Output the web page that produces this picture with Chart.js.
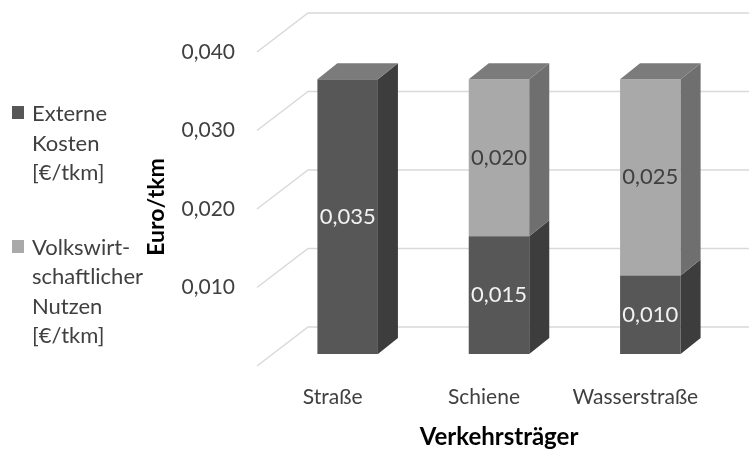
<!DOCTYPE html>
<html lang="de">
<head>
    <meta charset="UTF-8">
    <title>Externe Kosten und volkswirtschaftlicher Nutzen</title>
    <script src="https://cdn.jsdelivr.net/npm/chart.js"></script>
    <style>
        body { margin: 0; background: #fff; }
        #wrap { position: relative; width: 749px; height: 454px; }
        #legend {
            position: absolute; left: 12px; top: 98px;
            font-family: Lato, sans-serif; font-size: 22px; color: #404040;
            line-height: 29.5px;
        }
        .item { position: relative; padding-left: 20px; }
        .item + .item { margin-top: 45px; }
        .swatch { position: absolute; left: 0; top: 8px; width: 12px; height: 13px; }
    </style>
</head>
<body>
    <div id="wrap">
        <canvas id="chart"></canvas>
        <div id="legend">
            <div class="item"><span class="swatch" style="background:#575757"></span>Externe<br>Kosten<br>[€/tkm]</div>
            <div class="item"><span class="swatch" style="background:#a9a9a9"></span>Volkswirt-<br>schaftlicher<br>Nutzen<br>[€/tkm]</div>
        </div>
    </div>

    <script>
        const categories = ['Straße', 'Schiene', 'Wasserstraße'];
        const externeKosten = [0.035, 0.015, 0.010];
        const volkswirtNutzen = [null, 0.020, 0.025];
        const yTicks = [0, 0.01, 0.02, 0.03, 0.04];

        const fmt = v => v.toFixed(3).replace('.', ',');

        // colours per series: front, side, label
        const faces = [
            { front: '#575757', side: '#3d3d3d', text: '#f2f2f2' },
            { front: '#a9a9a9', side: '#6f6f6f', text: '#404040' }
        ];
        const topColor = '#7b7b7b';
        const depth = { dx: 20, dy: -16 };

        // fake 3D: back wall grid, side/top faces, value labels
        const bar3d = {
            id: 'bar3d',
            beforeDatasetsDraw(chart) {
                const ctx = chart.ctx, a = chart.chartArea, y = chart.scales.y;
                ctx.save();
                ctx.strokeStyle = '#d9d9d9';
                ctx.lineWidth = 1.5;
                yTicks.forEach(v => {
                    const py = y.getPixelForValue(v);
                    ctx.beginPath();
                    ctx.moveTo(a.left - 15, py + 12);
                    ctx.lineTo(a.left + 36, py - 27);
                    ctx.lineTo(chart.width, py - 27);
                    ctx.stroke();
                });
                ctx.restore();
            },
            afterDatasetsDraw(chart) {
                const ctx = chart.ctx, a = chart.chartArea;
                ctx.save();
                categories.forEach((c, i) => {
                    let topBar = null;
                    chart.data.datasets.forEach((ds, d) => {
                        if (ds.data[i] == null) return;
                        const bar = chart.getDatasetMeta(d).data[i];
                        const r = bar.x + bar.width / 2;
                        ctx.fillStyle = faces[d].side;
                        ctx.beginPath();
                        ctx.moveTo(r, bar.y);
                        ctx.lineTo(r + depth.dx, bar.y + depth.dy);
                        ctx.lineTo(r + depth.dx, bar.base + depth.dy);
                        ctx.lineTo(r, bar.base);
                        ctx.closePath();
                        ctx.fill();
                        topBar = bar;
                    });
                    if (topBar) {
                        const l = topBar.x - topBar.width / 2, r = topBar.x + topBar.width / 2;
                        ctx.fillStyle = topColor;
                        ctx.beginPath();
                        ctx.moveTo(l, topBar.y);
                        ctx.lineTo(l + depth.dx, topBar.y + depth.dy);
                        ctx.lineTo(r + depth.dx, topBar.y + depth.dy);
                        ctx.lineTo(r, topBar.y);
                        ctx.closePath();
                        ctx.fill();
                    }
                });
                ctx.font = '22px Lato';
                ctx.textAlign = 'center';
                ctx.textBaseline = 'middle';
                chart.data.datasets.forEach((ds, d) => {
                    chart.getDatasetMeta(d).data.forEach((bar, i) => {
                        if (ds.data[i] == null) return;
                        ctx.fillStyle = faces[d].text;
                        ctx.fillText(fmt(ds.data[i]), bar.x, (bar.y + bar.base) / 2);
                    });
                });

                // y axis title, sits a bit lower than the plot centre
                ctx.translate(a.left - 115, (a.top + a.bottom) / 2 + 10);
                ctx.rotate(-Math.PI / 2);
                ctx.font = 'bold 23px Lato';
                ctx.fillStyle = '#000';
                ctx.fillText('Euro/tkm', 0, 0);
                ctx.restore();
            }
        };

        Chart.defaults.font.family = 'Lato';
        Chart.defaults.color = '#404040';

        new Chart(document.getElementById('chart'), {
            type: 'bar',
            data: {
                labels: categories,
                datasets: [
                    { label: 'Externe Kosten [€/tkm]', data: externeKosten, backgroundColor: faces[0].front },
                    { label: 'Volkswirtschaftlicher Nutzen [€/tkm]', data: volkswirtNutzen, backgroundColor: faces[1].front }
                ]
            },
            options: {
                responsive: true,
                maintainAspectRatio: false,
                animation: false,
                layout: { padding: { left: 145, right: 23, top: 40, bottom: 0 } },
                datasets: { bar: { categoryPercentage: 1, barPercentage: 0.4 } },
                plugins: { legend: { display: false }, tooltip: { enabled: false } },
                scales: {
                    x: {
                        stacked: true,
                        grid: { display: false, drawTicks: false },
                        border: { display: false },
                        ticks: { padding: 31, labelOffset: -15, font: { size: 21 } },
                        title: {
                            display: true, text: 'Verkehrsträger', color: '#000',
                            font: { size: 24, weight: 'bold' }, padding: { top: 0, bottom: 2 }
                        },
                        afterFit(scale) { scale.height = 100; }
                    },
                    y: {
                        stacked: true,
                        min: 0, max: 0.04,
                        grid: { display: false, drawTicks: false },
                        border: { display: false },
                        ticks: {
                            stepSize: 0.01, padding: 37, labelOffset: 12, font: { size: 21 },
                            callback: v => v === 0 ? '' : fmt(v)
                        },
                        afterFit(scale) {
                            scale.width = 127;
                            // the big tick padding should not push the plot down
                            scale.paddingTop = 0;
                            scale.paddingBottom = 0;
                        }
                    }
                }
            },
            plugins: [bar3d]
        });
    </script>
</body>
</html>
